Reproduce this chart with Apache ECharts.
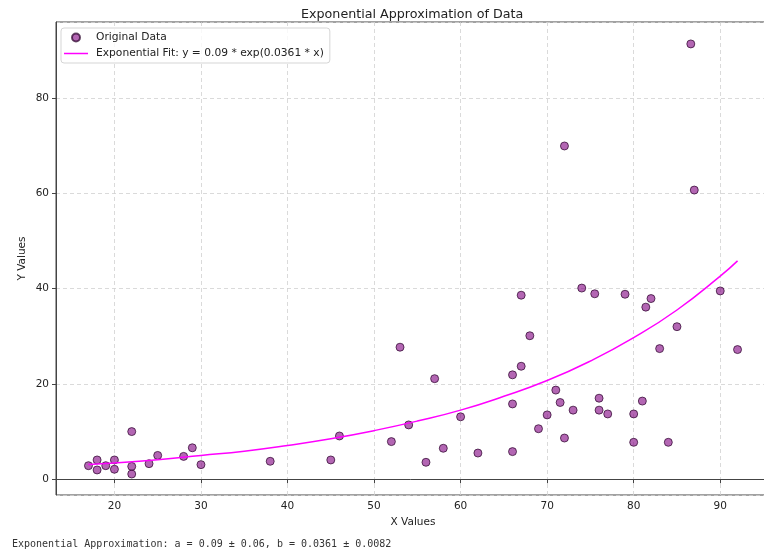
<!DOCTYPE html>
<html>
<head>
<meta charset="utf-8">
<script src="https://cdn.jsdelivr.net/npm/echarts@6/dist/echarts.min.js"></script>
<style>
html,body{margin:0;padding:0;background:#fff;overflow:hidden;}
#chart{width:764px;height:554px;}
</style>
</head>
<body>
<div id="chart"></div>
<script>
var titleText = 'Exponential Approximation of Data';
var scatterName = 'Original Data';
var fitName = 'Exponential Fit: y = 0.09 * exp(0.0361 * x)';
var footerText = 'Exponential Approximation: a = 0.09 \u00b1 0.06, b = 0.0361 \u00b1 0.0082';

var xValues = [17, 18, 18, 19, 20, 20, 22, 22, 22, 24, 25, 28, 29, 30, 38, 45, 46, 52, 53, 54,
  56, 57, 58, 60, 62, 66, 66, 66, 67, 67, 68, 69, 70, 71, 71.5, 72, 72, 73, 74, 75.5,
  76, 76, 77, 79, 80, 80, 81, 81.4, 82, 83, 84, 85, 86.6, 87, 90, 92];
var yValues = [2.85, 4.05, 1.95, 2.85, 4.05, 2.1, 10.0, 2.7, 1.1, 3.27, 5.0, 4.8, 6.6, 3.07, 3.77, 4.05, 9.08, 7.9, 27.7, 11.4,
  3.56, 21.1, 6.5, 13.1, 5.5, 5.8, 15.8, 21.9, 23.7, 38.6, 30.1, 10.6, 13.5, 18.7, 16.1, 8.65, 69.9, 14.5, 40.1, 38.9,
  17.0, 14.5, 13.7, 38.8, 13.7, 7.75, 16.4, 36.1, 37.9, 27.4, 7.75, 32.0, 91.3, 60.65, 39.5, 27.2];

var fitX = [17, 20, 25, 30, 35, 40, 45, 50, 55, 60, 65, 70, 75, 80, 85, 90, 92];
var fitY = [3.1, 3.4, 4.1, 5.0, 5.9, 7.1, 8.5, 10.2, 12.2, 14.5, 17.4, 20.7, 24.8, 29.7, 35.5, 42.6, 45.8];

var xMin = 13.25, xMax = 95.75;
var yMin = -3.3, yMax = 95.9;

var scatterData = xValues.map(function (x, i) { return [x, yValues[i]]; });
var fitData = fitX.map(function (x, i) { return [x, fitY[i]]; });

var textColor = '#222';
var font = 'DejaVu Sans';

var chart = echarts.init(document.getElementById('chart'), null, {renderer: 'canvas'});
chart.setOption({
  backgroundColor: '#fff',
  animation: false,
  title: {
    text: titleText,
    left: 296,
    top: 3,
    textStyle: {fontFamily: font, fontSize: 12.7, fontWeight: 'normal', color: textColor}
  },
  legend: {
    orient: 'vertical',
    left: 61,
    top: 28,
    padding: [4, 6, 4, 3],
    itemGap: 5,
    itemWidth: 24,
    itemHeight: 8,
    backgroundColor: 'rgba(255,255,255,0.8)',
    borderColor: '#d5d5d5',
    borderWidth: 1,
    borderRadius: 3,
    textStyle: {fontFamily: font, fontSize: 10.7, color: textColor, padding: [0, 0, 0, 3]},
    data: [
      {name: scatterName, icon: 'circle'},
      {name: fitName, icon: 'path://M0,0 L24,0 L24,1.5 L0,1.5 Z'}
    ]
  },
  grid: {left: 56, width: 714, top: 22, bottom: 59, outerBoundsMode: 'none', containLabel: false,
    show: true, borderColor: '#444', borderWidth: 1, backgroundColor: 'transparent'},
  xAxis: {
    type: 'value',
    min: xMin,
    max: xMax,
    splitNumber: 8,
    name: 'X Values',
    nameLocation: 'middle',
    nameGap: 22,
    nameTextStyle: {fontFamily: font, fontSize: 10.5, color: textColor},
    axisLine: {show: true, lineStyle: {color: '#444', width: 1}},
    axisTick: {show: true, length: 4, lineStyle: {color: '#444'}},
    axisLabel: {fontFamily: font, fontSize: 10.5, color: textColor, margin: 6, showMinLabel: false, showMaxLabel: false},
    splitLine: {show: true, lineStyle: {color: '#d0d0d0', type: [4, 3], width: 0.8}}
  },
  yAxis: {
    type: 'value',
    min: yMin,
    max: yMax,
    splitNumber: 5,
    name: 'Y Values',
    nameLocation: 'middle',
    nameGap: 28,
    nameMoveOverlap: false,
    nameRotate: 90,
    nameTextStyle: {fontFamily: font, fontSize: 10.5, color: textColor},
    axisLine: {show: true, lineStyle: {color: '#444', width: 1}},
    axisTick: {show: true, length: 4, lineStyle: {color: '#444'}},
    axisLabel: {fontFamily: font, fontSize: 10.5, color: textColor, margin: 7, showMinLabel: false, showMaxLabel: false},
    splitLine: {show: true, lineStyle: {color: '#d0d0d0', type: [4, 3], width: 0.8}}
  },
  graphic: [{
    type: 'text',
    left: 12,
    top: 539,
    style: {text: footerText, fontFamily: 'DejaVu Sans Mono', fontSize: 10, fill: '#333'}
  }],
  series: [
    {
      name: scatterName,
      type: 'scatter',
      data: scatterData,
      symbol: 'circle',
      symbolSize: 8,
      itemStyle: {color: 'rgba(128,0,128,0.6)', borderColor: 'rgba(40,0,40,0.7)', borderWidth: 1, opacity: 1},
      z: 2
    },
    {
      name: fitName,
      type: 'line',
      data: fitData,
      smooth: true,
      showSymbol: false,
      symbol: 'none',
      lineStyle: {color: '#ff00ff', width: 1.5},
      itemStyle: {color: '#ff00ff'},
      z: 3
    }
  ]
});
</script>
</body>
</html>
